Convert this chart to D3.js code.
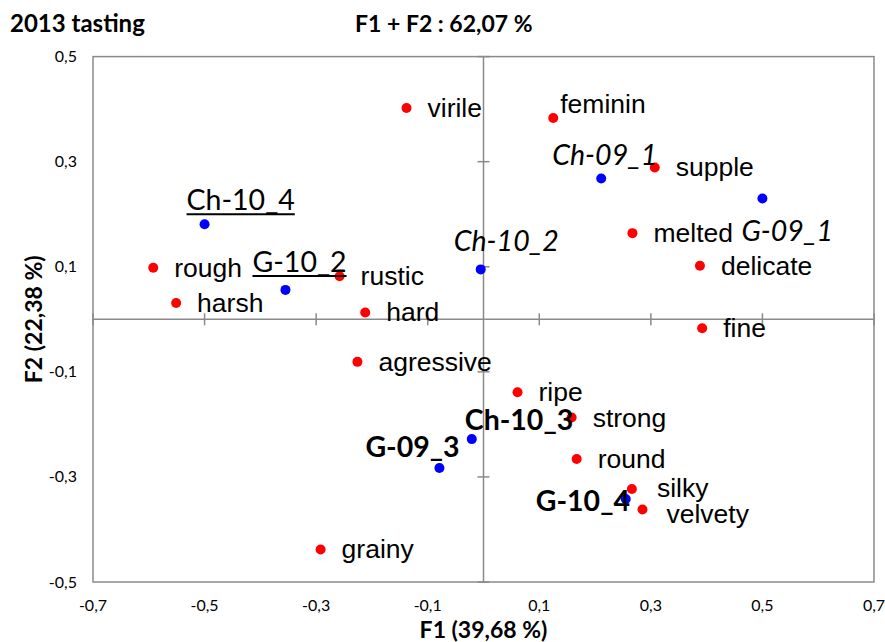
<!DOCTYPE html>
<html>
<head>
<meta charset="utf-8">
<script src="https://cdn.jsdelivr.net/npm/d3@7"></script>
<style>
html,body{margin:0;padding:0;background:#fff;}
svg{display:block;}
</style>
</head>
<body>
<svg id="chart" width="885" height="642"></svg>
<script>
// ---- DATA ----
const attributes = ["virile","feminin","supple","melted","delicate","fine","rough","harsh","rustic","hard","agressive","ripe","strong","round","silky","velvety","grainy"];
const attrF1 = [-0.138, 0.125, 0.307, 0.267, 0.388, 0.392, -0.592, -0.551, -0.258, -0.212, -0.226, 0.061, 0.158, 0.167, 0.266, 0.285, -0.292];
const attrF2 = [0.402, 0.383, 0.289, 0.164, 0.102, -0.017, 0.098, 0.031, 0.082, 0.013, -0.081, -0.139, -0.187, -0.266, -0.323, -0.362, -0.438];

const samples = ["Ch-10_4","G-10_2","Ch-10_2","Ch-09_1","G-09_1","G-09_3","Ch-10_3","G-10_4"];
const sampleF1 = [-0.500, -0.355, -0.005, 0.211, 0.500, -0.079, -0.021, 0.255];
const sampleF2 = [0.181, 0.056, 0.095, 0.268, 0.230, -0.283, -0.228, -0.342];

const xTicks = [-0.7,-0.5,-0.3,-0.1,0.1,0.3,0.5,0.7];
const xTickLabels = ["-0,7","-0,5","-0,3","-0,1","0,1","0,3","0,5","0,7"];
const yTicks = [0.5,0.3,0.1,-0.1,-0.3,-0.5];
const yTickLabels = ["0,5","0,3","0,1","-0,1","-0,3","-0,5"];

const titleText = "2013 tasting";
const subtitleText = "F1 + F2 : 62,07 %";
const xTitle = "F1 (39,68 %)";
const yTitle = "F2 (22,38 %)";

// ---- LAYOUT (label placement / styles) ----
const attrLabelOffset = {
  "feminin": [7,-5], "silky": [25,8], "velvety": [24,14]
};
const defaultAttrOffset = [21,9];
const sampleLabelLayout = {
  "Ch-10_4": {dx:-18, dy:-14, style:"underline"},
  "G-10_2": {dx:-33, dy:-18, style:"underline"},
  "Ch-10_2": {dx:-27, dy:-18, style:"italic"},
  "Ch-09_1": {dx:-49, dy:-13, style:"italic"},
  "G-09_1": {dx:-21, dy:43, style:"italic"},
  "G-09_3": {dx:-74, dy:-11, style:"bold"},
  "Ch-10_3": {dx:-7, dy:-9, style:"bold"},
  "G-10_4": {dx:-90, dy:12, style:"bold"}
};

const calibri = "Lato, 'Open Sans', sans-serif";
const arial = "'Liberation Sans', Arial, sans-serif";
const axisColor = "#8a8a8a";

const svg = d3.select("#chart");
const x = d3.scaleLinear().domain([-0.7,0.7]).range([93,874]);
const y = d3.scaleLinear().domain([-0.5,0.5]).range([582,56.6]);

// titles
svg.append("text").attr("x",10).attr("y",32).attr("font-family",calibri).attr("font-weight","bold")
  .attr("font-size",24).attr("fill","#000").text(titleText);
svg.append("text").attr("x",355).attr("y",32).attr("font-family",calibri).attr("font-weight","bold")
  .attr("font-size",23).attr("fill","#000").text(subtitleText);

// frame
svg.append("rect").attr("x",x(-0.7)).attr("y",y(0.5)).attr("width",x(0.7)-x(-0.7)).attr("height",y(-0.5)-y(0.5))
  .attr("fill","none").attr("stroke",axisColor).attr("stroke-width",1.5);

// axes through origin
const g = svg.append("g").attr("stroke",axisColor).attr("stroke-width",1.5);
g.append("line").attr("x1",x(-0.7)).attr("x2",x(0.7)).attr("y1",y(0)).attr("y2",y(0));
g.append("line").attr("x1",x(0)).attr("x2",x(0)).attr("y1",y(0.5)).attr("y2",y(-0.5));
g.selectAll(".xt").data(xTicks).join("line").attr("x1",d=>x(d)).attr("x2",d=>x(d)).attr("y1",y(0)-6).attr("y2",y(0)+6);
g.selectAll(".yt").data(yTicks).join("line").attr("y1",d=>y(d)).attr("y2",d=>y(d)).attr("x1",x(0)-6).attr("x2",x(0)+6);

// tick labels
svg.selectAll(".xl").data(xTicks).join("text").attr("x",d=>x(d)).attr("y",611)
  .attr("text-anchor","middle").attr("font-family",calibri).attr("font-size",16).attr("fill","#000")
  .text((d,i)=>xTickLabels[i]);
svg.selectAll(".yl").data(yTicks).join("text").attr("x",77).attr("y",d=>y(d)+5.5)
  .attr("text-anchor","end").attr("font-family",calibri).attr("font-size",16).attr("fill","#000")
  .text((d,i)=>yTickLabels[i]);

// axis titles
svg.append("text").attr("x",x(0)).attr("y",638).attr("text-anchor","middle").attr("font-family",calibri)
  .attr("font-weight","bold").attr("font-size",23).attr("fill","#000").text(xTitle);
svg.append("text").attr("transform",`translate(42,${y(0)}) rotate(-90)`).attr("text-anchor","middle").attr("font-family",calibri)
  .attr("font-weight","bold").attr("font-size",23).attr("fill","#000").text(yTitle);

// points
const attrData = attributes.map((n,i)=>({name:n,f1:attrF1[i],f2:attrF2[i]}));
const sampleData = samples.map((n,i)=>({name:n,f1:sampleF1[i],f2:sampleF2[i]}));

svg.selectAll(".ap").data(attrData).join("circle").attr("cx",d=>x(d.f1)).attr("cy",d=>y(d.f2)).attr("r",5).attr("fill","#ff0000");
svg.selectAll(".sp").data(sampleData).join("circle").attr("cx",d=>x(d.f1)).attr("cy",d=>y(d.f2)).attr("r",5).attr("fill","#0000ff");

// attribute labels
svg.selectAll(".al").data(attrData).join("text")
  .attr("x",d=>x(d.f1)+(attrLabelOffset[d.name]||defaultAttrOffset)[0])
  .attr("y",d=>y(d.f2)+(attrLabelOffset[d.name]||defaultAttrOffset)[1])
  .attr("font-family",arial).attr("font-size",26.5).attr("fill","#000").text(d=>d.name);

// sample labels
sampleData.forEach(d=>{
  const L = sampleLabelLayout[d.name];
  const tx = x(d.f1)+L.dx, ty = y(d.f2)+L.dy;
  const t = svg.append("text").attr("x",tx).attr("y",ty).attr("font-family",calibri).attr("font-size",28.5).attr("fill","#000").text(d.name);
  if (L.style==="bold") t.attr("font-weight","bold");
  if (L.style==="italic") t.attr("font-style","italic");
  if (L.style==="underline") {
    const w = t.node().getComputedTextLength();
    svg.append("line").attr("x1",tx).attr("x2",tx+w).attr("y1",ty+4).attr("y2",ty+4).attr("stroke","#000").attr("stroke-width",2);
  }
});
</script>
</body>
</html>
